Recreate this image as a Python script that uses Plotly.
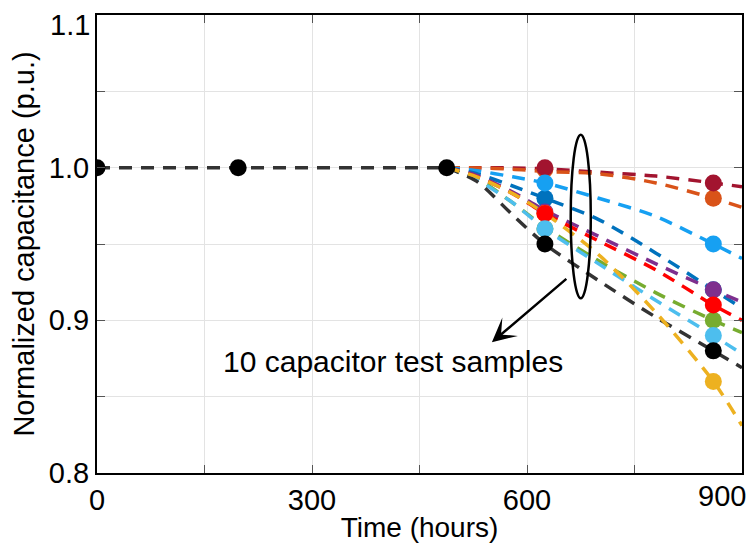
import plotly.graph_objects as go

# ---------------- data ----------------
base_t = [0, 197, 488]
base_v = [1.0, 1.0, 1.0]

sample_names = ["S1", "S2", "S3", "S4", "S5", "S6", "S7", "S8", "S9", "S10"]
sample_colors = ["#A2142F", "#D95319", "#16A0F2", "#0072BD", "#7E2F8E",
                 "#FF0000", "#77AC30", "#4DBEEE", "#000000", "#EDB120"]
line_colors = ["#A2142F", "#D95319", "#16A0F2", "#0072BD", "#7E2F8E",
               "#FF0000", "#77AC30", "#4DBEEE", "#333333", "#EDB120"]

# measured points (time, value)
meas_t = [625, 860]
meas_v = {
    "S1": [1.000, 0.990],
    "S2": [0.999, 0.980],
    "S3": [0.990, 0.950],
    "S4": [0.980, 0.920],
    "S5": [0.971, 0.920],
    "S6": [0.970, 0.910],
    "S7": [0.960, 0.900],
    "S8": [0.960, 0.890],
    "S9": [0.950, 0.880],
    "S10": [0.970, 0.860],
}

# fitted (dashed) curves, values read at these times
fit_t = [488, 530, 580, 625, 700, 780, 860, 900]
fit_v = {
    "S1": [1.0, 1.000, 0.9998, 0.9993, 0.997, 0.9945, 0.990, 0.9875],
    "S2": [1.0, 0.9998, 0.999, 0.9975, 0.996, 0.990, 0.980, 0.974],
    "S3": [1.0, 0.998, 0.994, 0.990, 0.980, 0.968, 0.950, 0.9405],
    "S4": [1.0, 0.996, 0.988, 0.980, 0.966, 0.944, 0.920, 0.908],
    "S5": [1.0, 0.995, 0.984, 0.972, 0.955, 0.937, 0.920, 0.912],
    "S6": [1.0, 0.994, 0.983, 0.970, 0.952, 0.933, 0.910, 0.900],
    "S7": [1.0, 0.993, 0.977, 0.961, 0.939, 0.918, 0.900, 0.892],
    "S8": [1.0, 0.992, 0.977, 0.960, 0.937, 0.913, 0.890, 0.878],
    "S9": [1.0, 0.991, 0.969, 0.950, 0.926, 0.902, 0.880, 0.869],
    "S10": [1.0, 0.994, 0.983, 0.970, 0.943, 0.905, 0.860, 0.831],
}

# marker drawing order (hidden ones first)
marker_order = ["S4", "S5", "S2", "S7", "S10", "S1", "S3", "S6", "S8", "S9"]

x_tickvals = [0, 150, 300, 450, 600, 750, 900]
x_ticktext = ["0", "", "300", "", "600", "", "900"]
y_tickvals = [0.8, 0.85, 0.9, 0.95, 1.0, 1.05, 1.1]
y_ticktext = ["0.8", "", "0.9", "", "1.0", "", "1.1"]

annot_text = "10 capacitor test samples"

FONT = "Arial, 'Liberation Sans', sans-serif"
TICKFONT = dict(family=FONT, size=29, color="black")

fig = go.Figure()

# dashed fitted curves
for name, lc in zip(sample_names, line_colors):
    fig.add_trace(go.Scatter(
        x=fit_t, y=fit_v[name], mode="lines",
        line=dict(color=lc, width=3.5, dash="13px,9px", shape="spline", smoothing=0.8),
        showlegend=False, hoverinfo="skip"))

# base dashed line
fig.add_trace(go.Scatter(
    x=base_t, y=base_v, mode="lines",
    line=dict(color="#333333", width=3.5, dash="13px,9px"),
    showlegend=False, hoverinfo="skip"))

# measured markers
for name in marker_order:
    c = sample_colors[sample_names.index(name)]
    fig.add_trace(go.Scatter(
        x=meas_t, y=meas_v[name], mode="markers",
        marker=dict(color=c, size=17, line=dict(width=0)),
        showlegend=False))

fig.add_trace(go.Scatter(
    x=base_t, y=base_v, mode="markers",
    marker=dict(color="#000000", size=17, line=dict(width=0)),
    showlegend=False))

# ellipse around the curves
fig.add_shape(type="circle", xref="x", yref="y",
              x0=661, x1=689, y0=0.9144, y1=1.0216,
              line=dict(color="black", width=2.5))

# arrow
fig.add_annotation(x=551, y=0.8856, ax=657, ay=0.928, axref="x", ayref="y",
                   xref="x", yref="y", text="", showarrow=True,
                   arrowhead=3, arrowwidth=2.5, arrowsize=1.6, arrowcolor="black")

# label
fig.add_annotation(x=413, y=0.873, xref="x", yref="y", text=annot_text,
                   showarrow=False, font=dict(family=FONT, size=30, color="black"))

# end tick labels kept inside the page (as in the reference)
fig.add_annotation(x=x_tickvals[-1], y=0, xref="x", yref="paper",
                   text=x_ticktext[-1], showarrow=False, xanchor="right", yanchor="top",
                   xshift=6, yshift=-5, font=TICKFONT)
fig.add_annotation(x=0, y=y_tickvals[-1], xref="paper", yref="y",
                   text=y_ticktext[-1], showarrow=False, xanchor="right", yanchor="middle",
                   xshift=-5, yshift=-10, font=TICKFONT)
x_ticktext_axis = x_ticktext[:-1] + [""]
y_ticktext_axis = y_ticktext[:-1] + [""]

axis_common = dict(
    automargin=False,
    showgrid=True, gridcolor="#e3e3e3", gridwidth=1,
    showline=True, linecolor="black", linewidth=2, mirror="ticks",
    ticks="inside", ticklen=8, tickwidth=1, tickcolor="#555555",
    ticklabeloverflow="allow",
    zeroline=False, tickfont=TICKFONT,
)

fig.update_xaxes(range=[0, 900], tickvals=x_tickvals, ticktext=x_ticktext_axis,
                 title=dict(text="Time (hours)", font=dict(family=FONT, size=28, color="black"),
                            standoff=3),
                 **axis_common)
fig.update_yaxes(range=[0.8, 1.1], tickvals=y_tickvals, ticktext=y_ticktext_axis,
                 title=dict(text="Normalized capacitance (p.u.)",
                            font=dict(family=FONT, size=29, color="black"), standoff=8),
                 **axis_common)

fig.update_layout(
    template="none",
    width=747, height=539,
    margin=dict(l=89, r=13, t=7, b=74, pad=0),
    paper_bgcolor="white", plot_bgcolor="white",
    font=dict(family=FONT, color="black"),
    showlegend=False,
)

fig.write_html("out.html")
